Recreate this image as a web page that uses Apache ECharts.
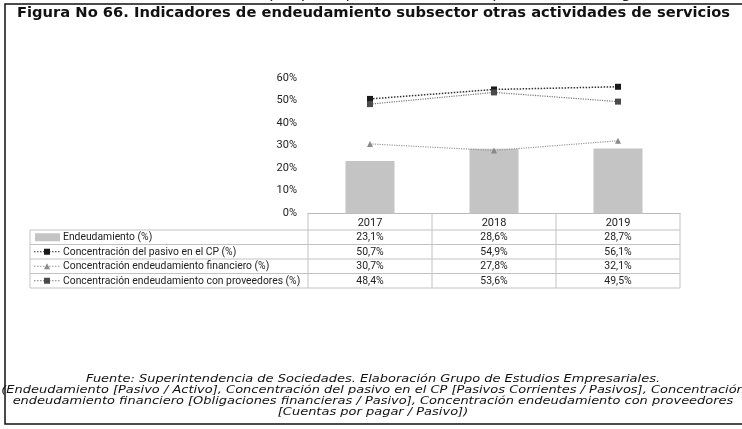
<!DOCTYPE html>
<html><head><meta charset="utf-8">
<script src="https://cdn.jsdelivr.net/npm/echarts@6/dist/echarts.min.js"></script>
<style>html,body{margin:0;padding:0;background:#fff}#c{width:742px;height:429px}</style>
</head><body><div id="c"></div>
<script>
const years = ['2017', '2018', '2019'];
const endeudamiento = [23.1, 28.6, 28.7];
const pasivoCP = [50.7, 54.9, 56.1];
const financiero = [30.7, 27.8, 32.1];
const proveedores = [48.4, 53.6, 49.5];
const seriesNames = ['Endeudamiento (%)', 'Concentración del pasivo en el CP (%)', 'Concentración endeudamiento financiero (%)', 'Concentración endeudamiento con proveedores (%)'];
const yTicks = [0, 10, 20, 30, 40, 50, 60];
const titleText = 'Figura No 66. Indicadores de endeudamiento subsector otras actividades de servicios';
const footerLines = [
  'Fuente: Superintendencia de Sociedades. Elaboración Grupo de Estudios Empresariales.',
  '(Endeudamiento [Pasivo / Activo], Concentración del pasivo en el CP [Pasivos Corrientes / Pasivos], Concentración',
  'endeudamiento financiero [Obligaciones financieras / Pasivo], Concentración endeudamiento con proveedores',
  '[Cuentas por pagar / Pasivo])'
];
const topCutText = 'por principalmente con sus proveedores, llegando casi al 5';

const TF = '"Roboto", sans-serif';
const chart = echarts.init(document.getElementById('c'), null, {renderer: 'canvas'});
const fmt = v => v.toFixed(1).replace('.', ',') + '%';
const colors = ['#c4c4c4', '#1a1a1a', '#8a8a8a', '#4a4a4a'];

chart.setOption({
  animation: false,
  backgroundColor: '#fff',
  grid: {left: 308, right: 62, top: 78, bottom: 216, containLabel: false},
  xAxis: {
    type: 'category', data: years,
    axisLine: {show: true, lineStyle: {color: '#bbb', width: 1}},
    axisTick: {show: false},
    axisLabel: {color: '#222', fontFamily: TF, fontSize: 11, margin: 5}
  },
  yAxis: {
    type: 'value', min: yTicks[0], max: yTicks[yTicks.length - 1], interval: 10,
    axisLine: {show: false}, axisTick: {show: false}, splitLine: {show: false},
    axisLabel: {formatter: '{value}%', color: '#222', fontFamily: TF, fontSize: 11, margin: 11}
  },
  series: [
    {name: seriesNames[0], type: 'bar', data: endeudamiento, barWidth: 49, itemStyle: {color: colors[0]}},
    {name: seriesNames[1], type: 'line', data: pasivoCP, symbol: 'rect', symbolSize: 6,
     itemStyle: {color: colors[1]}, lineStyle: {type: 'dotted', width: 1.5, color: '#333'}},
    {name: seriesNames[2], type: 'line', data: financiero, symbol: 'triangle', symbolSize: 6,
     itemStyle: {color: colors[2]}, lineStyle: {type: 'dotted', width: 1.2, color: '#999'}},
    {name: seriesNames[3], type: 'line', data: proveedores, symbol: 'rect', symbolSize: 6,
     itemStyle: {color: colors[3]}, lineStyle: {type: 'dotted', width: 1.2, color: '#777'}}
  ]
});

const g = [];
const colX = years.map(y => chart.convertToPixel({xAxisIndex: 0}, y));
const half = (colX[1] - colX[0]) / 2;
const tLeft = 30, gL = colX[0] - half, gR = colX[colX.length - 1] + half;
const axisY = chart.convertToPixel({yAxisIndex: 0}, 0);
const rowH = 14.5;
const headerBottom = axisY + 17;
const lineColor = '#c2c2c2';
for (let k = 0; k <= years.length; k++) {
  const x = gL + 2 * half * k;
  g.push({type: 'line', shape: {x1: x, y1: axisY, x2: x, y2: headerBottom + rowH * 4}, style: {stroke: lineColor, lineWidth: 1}});
}
g.push({type: 'line', shape: {x1: tLeft, y1: headerBottom, x2: tLeft, y2: headerBottom + rowH * 4}, style: {stroke: lineColor, lineWidth: 1}});
for (let r = 0; r <= 4; r++) {
  const y = headerBottom + rowH * r;
  g.push({type: 'line', shape: {x1: tLeft, y1: y, x2: gR, y2: y}, style: {stroke: lineColor, lineWidth: 1}});
}
const rows = [endeudamiento, pasivoCP, financiero, proveedores];
rows.forEach((arr, r) => {
  const cy = headerBottom + rowH * r + rowH / 2;
  arr.forEach((v, i) => {
    g.push({type: 'text', x: colX[i], y: cy, scaleX: 0.95, style: {text: fmt(v), fill: '#222', font: '11px ' + TF, textAlign: 'center', textVerticalAlign: 'middle'}});
  });
  if (r === 0) {
    g.push({type: 'rect', shape: {x: 35, y: cy - 4, width: 25, height: 8}, style: {fill: colors[0]}});
  } else {
    const lc = ['#333', '#999', '#777'][r - 1];
    g.push({type: 'line', shape: {x1: 34, y1: cy, x2: 60, y2: cy}, style: {stroke: lc, lineWidth: 1.2, lineDash: [1.5, 1.5]}});
    if (r === 2) {
      g.push({type: 'polygon', shape: {points: [[47, cy - 3], [44, cy + 3], [50, cy + 3]]}, style: {fill: colors[2]}});
    } else {
      g.push({type: 'rect', shape: {x: 44, y: cy - 3, width: 6, height: 6}, style: {fill: colors[r]}});
    }
  }
  g.push({type: 'text', x: 63, y: cy, scaleX: 0.94, style: {text: seriesNames[r], fill: '#222', font: '11px ' + TF, textVerticalAlign: 'middle'}});
});
g.push({type: 'rect', shape: {x: 5, y: 4, width: 760, height: 420}, style: {fill: 'none', stroke: '#111', lineWidth: 1.5}});
g.push({type: 'text', x: 17, y: 13, scaleX: 1.05, style: {text: titleText, fill: '#111', font: 'bold 14px "DejaVu Sans", sans-serif', textVerticalAlign: 'middle'}});
g.push({type: 'text', x: 742, y: -6, style: {text: topCutText, fill: '#222', font: '16px "DejaVu Sans", sans-serif', textAlign: 'right', textVerticalAlign: 'middle'}});
footerLines.forEach((t, i) => {
  g.push({type: 'text', x: 373, y: 379 + i * 11, scaleX: 1.18, style: {text: t, fill: '#111', font: 'italic 11px "DejaVu Sans", sans-serif', textAlign: 'center', textVerticalAlign: 'middle'}});
});
chart.setOption({graphic: g});
</script>
</body></html>
